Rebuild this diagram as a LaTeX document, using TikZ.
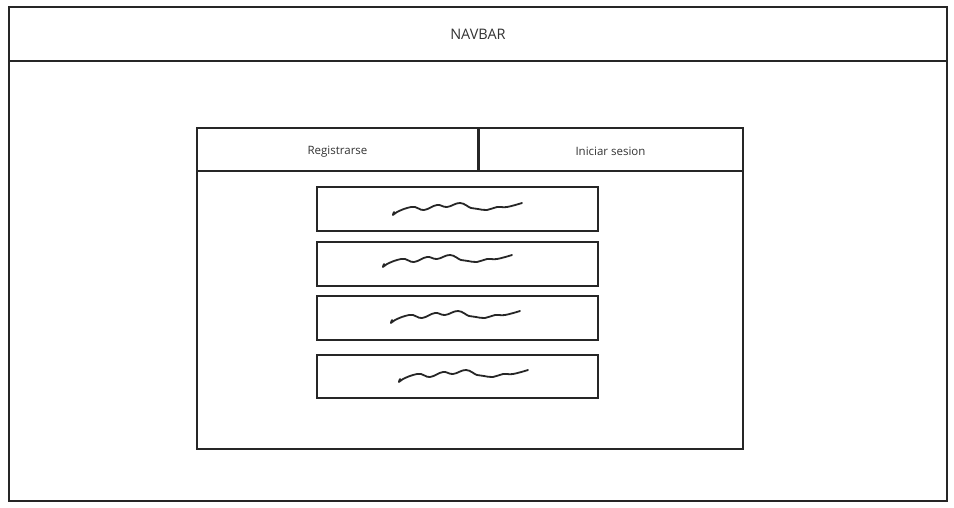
\documentclass[tikz,border=0pt]{standalone}
\usepackage{fontspec}
\setmainfont{Open Sans}
\begin{document}
\begin{tikzpicture}[x=1pt,y=-1pt,
  frame/.style={draw=black!85, line width=1.3pt, inner sep=0pt, outer sep=0pt, anchor=north west},
  lbl/.style={text=black!80, inner sep=0pt},
  squig/.style={draw=black!85, line width=1.8pt, line cap=round, line join=round}]
\useasboundingbox[fill=white] (0,0) rectangle (954,508);
% outer frame and navbar
\node[frame, minimum width=938pt, minimum height=494pt] (page) at (9,7) {};
\node[frame, minimum width=938pt, minimum height=54pt] (navbar) at (9,7) {};
\node[lbl, font=\fontsize{14.5}{16}\selectfont] (navtext) at (navbar.center) {NAVBAR};
% card
\node[frame, minimum width=546pt, minimum height=321pt] (card) at (197,128) {};
\node[frame, minimum width=281pt, minimum height=43pt] (tab1) at (197,128) {};
\node[frame, minimum width=265pt, minimum height=43pt] (tab2) at (478,128) {};
\draw[draw=black!85, line width=3pt] (tab1.north east) -- (tab1.south east);
\node[lbl, font=\fontsize{11.5}{13}\selectfont] (t1) at ([yshift=-2pt]tab1.center) {Registrarse};
\node[lbl, font=\fontsize{11.5}{13}\selectfont] (t2) at ([yshift=-2pt]tab2.center) {Iniciar sesion};
% inputs
\node[frame, minimum width=281pt, minimum height=44pt] (in1) at (317,187) {};
\node[frame, minimum width=281pt, minimum height=44pt] (in2) at (317,242) {};
\node[frame, minimum width=281pt, minimum height=44pt] (in3) at (317,296) {};
\node[frame, minimum width=281pt, minimum height=43pt] (in4) at (317,355) {};
% squiggles
\coordinate (s1) at (393,215);
\coordinate (s2) at (383,267);
\coordinate (s3) at (391,323);
\coordinate (s4) at (399,382);
\foreach \s in {s1,s2,s3,s4}{
  \draw[squig, shift={(\s)}] plot[smooth, tension=0.7] coordinates
   {(1,-3) (0,0) (4,-3) (14,-7) (22,-8) (31,-5) (44,-10) (54,-8) (67,-12) (78,-7) (85,-6) (94,-5) (104,-8) (114,-8) (129,-12)};
}
\end{tikzpicture}
\end{document}
